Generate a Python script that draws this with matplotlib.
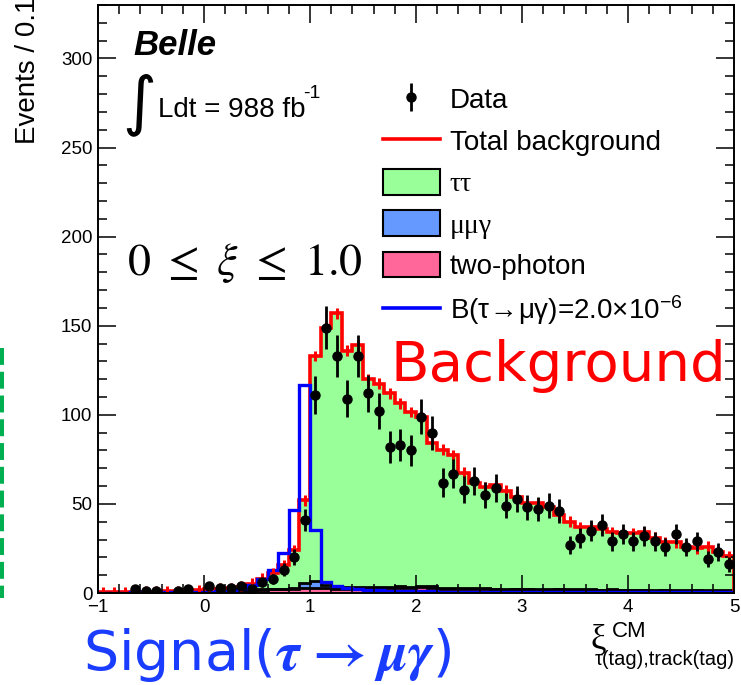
import numpy as np
import matplotlib
matplotlib.use("Agg")
import matplotlib.pyplot as plt
from matplotlib.lines import Line2D
from matplotlib.patches import Patch
from matplotlib.ticker import MultipleLocator

plt.rcParams['font.family'] = ['Liberation Sans', 'DejaVu Sans']
plt.rcParams['mathtext.fontset'] = 'custom'
plt.rcParams['mathtext.rm'] = 'Liberation Sans'
plt.rcParams['mathtext.it'] = 'Liberation Sans:italic'
plt.rcParams['mathtext.bf'] = 'Liberation Sans:bold'

# binning: xi from -1 to 5, 0.1 per bin
bin_lo, bin_hi, n_bins = -1.0, 5.0, 60

# total background (red)
total_bkg = [0.5, 0.5, 0.6, 0.6, 0.7, 0.8, 0.9, 1.1, 1.5, 1.7,
             2.2, 2.4, 2.8, 3.6, 5.2, 8.0, 11.0, 15.5, 24.0, 52.0,
             133, 149, 157, 136, 139, 120, 117.5, 112, 106.5, 101.5,
             98.5, 84, 80.5, 77.5, 67.5, 61.5, 59.5, 60.5, 57.5, 54,
             50.5, 50.5, 48.5, 43.5, 40, 37, 37, 36, 34, 33.5,
             33.5, 34, 31, 28.5, 28.5, 26, 25, 26, 23, 20.5]

two_photon = [0.2, 0.2, 0.2, 0.3, 0.3, 0.3, 0.3, 0.4, 0.4, 0.5,
              0.6, 0.8, 1.0, 1.2, 1.5, 1.8, 2.0, 2.0, 2.2, 2.6,
              3.0, 2.8, 2.4, 2.2, 2.5, 2.6, 2.3, 2.8, 3.0, 2.6,
              3.2, 3.0, 2.2, 2.0, 2.3, 2.0, 2.2, 2.0, 1.8, 2.0,
              2.0, 1.8, 1.9, 2.0, 1.7, 1.8, 1.6, 1.5, 1.8, 1.6,
              1.5, 1.6, 1.4, 1.5, 1.3, 1.4, 1.6, 1.3, 1.2, 1.3]

mumugamma = [0, 0, 0, 0, 0, 0, 0, 0, 0, 0,
             0, 0, 0, 0.1, 0.2, 0.3, 0.3, 0.3, 0.8, 2.8,
             4.0, 1.5, 1.2, 1.0, 1.0, 0.9, 0.9, 0.8, 0.9, 0.8,
             0.8, 0.7, 0.7, 0.6, 0.6, 0.6, 0.5, 0.5, 0.5, 0.5,
             0.5, 0.5, 0.4, 0.4, 0.4, 0.4, 0.4, 0.4, 0.3, 0.3,
             0.3, 0.3, 0.3, 0.3, 0.3, 0.3, 0.3, 0.3, 0.3, 0.3]

signal = [0.2, 0.2, 0.2, 0.3, 0.3, 0.3, 0.4, 0.4, 0.5, 0.6,
          0.8, 1.0, 1.3, 2.0, 4.3, 8.0, 12.7, 22.4, 46.4, 116.8,
          35.3, 6.0, 3.8, 2.6, 2.0, 1.8, 1.5, 1.3, 1.2, 1.0,
          0.9, 0.9, 0.8, 0.8, 0.8, 0.7, 0.7, 0.7, 0.6, 0.6,
          0.6, 0.6, 0.5, 0.5, 0.5, 0.5, 0.5, 0.4, 0.4, 0.4,
          0.4, 0.4, 0.4, 0.3, 0.3, 0.3, 0.3, 0.3, 0.3, 0.3]

nan = np.nan
data = [nan, nan, nan, 2, 1, 1, nan, 1, 2, nan,
        4, 3, 3, 4, 2, 6, 8, 13, 20, 41,
        111, 149, 133, 109, 133, 112, 102, 82, 83, 80,
        99, 90, 62, 67, 58, 63, 55, 59, 49, 53,
        48, 47, 49, 46, 27, 31, 35, 38, 29, 33,
        29, 32, 29, 26, 33, 26, 29, 19, 23, 16]

bkg_err = 3.0

legend_labels = ['Data', 'Total background', 'ττ', 'μμγ', 'two-photon',
                 r'B(τ$\!\rightarrow\!$μγ)=2.0×10$^{-6}$']

c_tt = '#99ff99'
c_mmg = '#6699ff'
c_tp = '#ff6699'

W, H = 741, 685


def fx(px):
    return px / W


def fy(py):
    return 1 - py / H


fig = plt.figure(figsize=(W / 100, H / 100), dpi=100)
ax = fig.add_axes([fx(98), fy(593), fx(734) - fx(98), fy(5) - fy(593)])

edges = np.linspace(bin_lo, bin_hi, n_bins + 1)
centers = 0.5 * (edges[1:] + edges[:-1])
tp = np.array(two_photon)
lvl2 = tp + np.array(mumugamma)
tot = np.array(total_bkg)
d = np.array(data, dtype=float)

# stacked backgrounds
ax.stairs(tp, edges, baseline=0, fill=True, color=c_tp)
ax.stairs(lvl2, edges, baseline=tp, fill=True, color=c_mmg)
ax.stairs(tot, edges, baseline=lvl2, fill=True, color=c_tt)
ax.stairs(tp, edges, color='black', lw=2)
ax.stairs(lvl2, edges, color='black', lw=2)

ax.stairs(tot, edges, color='red', lw=2.6)
ax.errorbar(centers, tot, yerr=bkg_err, fmt='none', ecolor='red', elinewidth=2.2)
ax.stairs(signal, edges, color='blue', lw=2.4)

h_data = ax.errorbar(centers, d, yerr=np.sqrt(d), fmt='o', color='black',
                     ms=6.5, elinewidth=2, capsize=0)

ax.set_xlim(bin_lo, bin_hi)
ax.set_ylim(0, 330)
ax.xaxis.set_major_locator(MultipleLocator(1))
ax.xaxis.set_minor_locator(MultipleLocator(0.2))
ax.yaxis.set_major_locator(MultipleLocator(50))
ax.yaxis.set_minor_locator(MultipleLocator(10))
ax.tick_params(which='both', direction='in', top=True, right=True, labelsize=13.5, pad=4)
ax.tick_params(which='major', length=13, width=1.1)
ax.tick_params(which='minor', length=6.5, width=1.1)
for s in ax.spines.values():
    s.set_linewidth(1.4)

handles = [h_data,
           Line2D([], [], color='red', lw=2.6),
           Patch(facecolor=c_tt, edgecolor='black', lw=1.5),
           Patch(facecolor=c_mmg, edgecolor='black', lw=1.5),
           Patch(facecolor=c_tp, edgecolor='black', lw=1.5),
           Line2D([], [], color='blue', lw=2.6)]
leg = fig.legend(handles, legend_labels, loc='upper left', bbox_to_anchor=(fx(383), fy(86)),
                 frameon=False, fontsize=20, handlelength=2.05, handleheight=1.05,
                 handletextpad=0.36, labelspacing=0.47, borderpad=0, borderaxespad=0)
leg.get_texts()[2].set_fontfamily(['Liberation Serif', 'DejaVu Serif'])
leg.get_texts()[3].set_fontfamily(['Liberation Serif', 'DejaVu Serif'])

# labels
fig.text(fx(28), fy(-3), 'Events / 0.1', rotation=90, fontsize=20, ha='center', va='top')
fig.text(fx(591), fy(640), 'ξ', family=['Liberation Serif', 'DejaVu Serif'], fontsize=25, va='center')
fig.text(fx(612), fy(621), 'CM', fontsize=16, va='top')
fig.text(fx(735), fy(650), 'τ(tag),track(tag)', fontsize=14.5, ha='right', va='top')

# annotations
fig.text(fx(133), fy(55), 'Belle', fontsize=25, fontweight='bold', fontstyle='italic', va='baseline')
fig.text(fx(122), fy(104), '∫', family='DejaVu Sans', fontsize=47, va='center')
fig.text(fx(158), fy(117), 'Ldt = 988 fb', fontsize=20, va='baseline')
fig.text(fx(303), fy(98), '-1', fontsize=14, va='baseline')
fig.text(fx(127), fy(275), r'$0\ \leq\ \xi\ \leq\ 1.0$', fontsize=33, math_fontfamily='stix', va='baseline')
fig.text(fx(390), fy(381), 'Background', color='red', fontsize=40.5, family='DejaVu Sans', va='baseline')
fig.text(fx(83), fy(670), 'Signal(' + r'$\boldsymbol{\tau\,\rightarrow\,\mu\gamma}$' + ')',
         color='#1a3cff', fontsize=40, family='DejaVu Sans', math_fontfamily='stix', va='baseline')

fig.add_artist(Line2D([fx(2), fx(2)], [fy(348), fy(598)], color='#00b050', lw=2.9,
                      dashes=(4.2, 1.7), transform=fig.transFigure))

fig.savefig('out.png', dpi=100)
